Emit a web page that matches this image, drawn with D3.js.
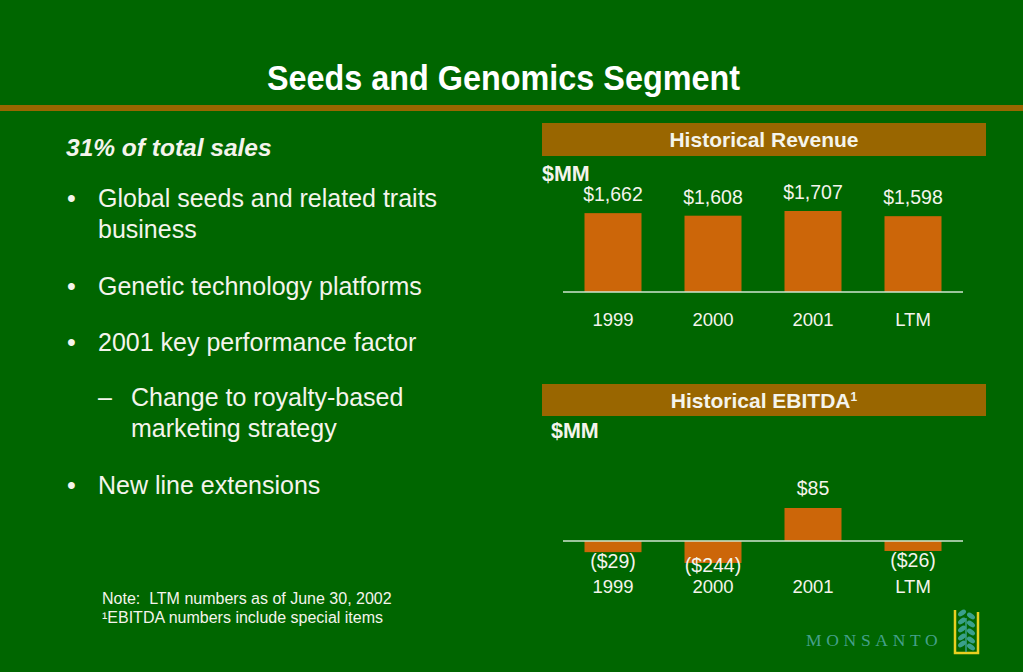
<!DOCTYPE html>
<html>
<head>
<meta charset="utf-8">
<script src="https://cdn.jsdelivr.net/npm/d3@7"></script>
<style>
  body { margin: 0; background: #006600; }
  svg { display: block; font-family: "Liberation Sans", Arial, sans-serif; }
</style>
</head>
<body>
<script>
var categories = ['1999', '2000', '2001', 'LTM'];
var revenue = [1662, 1608, 1707, 1598];
var revenueLabels = ['$1,662', '$1,608', '$1,707', '$1,598'];
var ebitda = [-29, -244, 85, -26];
var ebitdaLabels = ['($29)', '($244)', '$85', '($26)'];

var bullets = [
  {mark: '\u2022', lines: ['Global seeds and related traits', 'business'], y: 207, indent: 0},
  {mark: '\u2022', lines: ['Genetic technology platforms'], y: 295, indent: 0},
  {mark: '\u2022', lines: ['2001 key performance factor'], y: 351, indent: 0},
  {mark: '\u2013', lines: ['Change to royalty-based', 'marketing strategy'], y: 406, indent: 1},
  {mark: '\u2022', lines: ['New line extensions'], y: 494, indent: 0}
];

var W = 1023, H = 672;
var txt = '#f4f4ec', band = '#996600', barCol = '#cc6609';

var svg = d3.select('body').append('svg').attr('width', W).attr('height', H);
svg.append('rect').attr('width', W).attr('height', H).attr('fill', '#006600');

// title
svg.append('text').attr('x', 267).attr('y', 90)
  .attr('fill', '#fff').attr('font-weight', 'bold').attr('font-size', 35)
  .attr('textLength', 473).attr('lengthAdjust', 'spacingAndGlyphs')
  .text('Seeds and Genomics Segment');
svg.append('rect').attr('x', 0).attr('y', 105).attr('width', W).attr('height', 6).attr('fill', band);

// left text
svg.append('text').attr('x', 66).attr('y', 156).attr('fill', txt)
  .attr('font-weight', 'bold').attr('font-style', 'italic').attr('font-size', 24.5)
  .text('31% of total sales');

bullets.forEach(function(b) {
  var mx = b.indent ? 98 : 67, tx = b.indent ? 131 : 98;
  svg.append('text').attr('x', mx).attr('y', b.y).attr('fill', txt).attr('font-size', 25).text(b.mark);
  b.lines.forEach(function(l, i) {
    svg.append('text').attr('x', tx).attr('y', b.y + i * 31).attr('fill', txt).attr('font-size', 25).text(l);
  });
});

// notes
svg.append('text').attr('x', 102).attr('y', 604).attr('fill', txt).attr('font-size', 16)
  .style('white-space', 'pre').text('Note:  LTM numbers as of June 30, 2002');
svg.append('text').attr('x', 102).attr('y', 623).attr('fill', txt).attr('font-size', 16)
  .text('\u00b9EBITDA numbers include special items');

var x = d3.scaleBand().domain(categories).range([563, 963]).paddingInner(0.43).paddingOuter(0.215);

// revenue chart
svg.append('rect').attr('x', 542).attr('y', 123).attr('width', 444).attr('height', 33).attr('fill', band);
svg.append('text').attr('x', 764).attr('y', 147).attr('text-anchor', 'middle').attr('fill', txt)
  .attr('font-weight', 'bold').attr('font-size', 21).text('Historical Revenue');
svg.append('text').attr('x', 542).attr('y', 181).attr('fill', txt)
  .attr('font-weight', 'bold').attr('font-size', 21.5).text('$MM');

var yR = d3.scaleLinear().domain([0, 1707]).range([292, 211]);
var rev = svg.append('g');
rev.selectAll('rect').data(revenue).enter().append('rect')
  .attr('x', (d, i) => x(categories[i])).attr('width', x.bandwidth())
  .attr('y', d => yR(d)).attr('height', d => yR(0) - yR(d)).attr('fill', barCol);
rev.selectAll('text.v').data(revenue).enter().append('text').attr('class', 'v')
  .attr('x', (d, i) => x(categories[i]) + x.bandwidth() / 2).attr('y', d => yR(d) - 12)
  .attr('text-anchor', 'middle').attr('fill', txt).attr('font-size', 19.5)
  .text((d, i) => revenueLabels[i]);
rev.append('line').attr('x1', 563).attr('x2', 963).attr('y1', yR(0)).attr('y2', yR(0))
  .attr('stroke', '#cfe6cf').attr('stroke-width', 1.5);
rev.selectAll('text.c').data(categories).enter().append('text').attr('class', 'c')
  .attr('x', d => x(d) + x.bandwidth() / 2).attr('y', 326)
  .attr('text-anchor', 'middle').attr('fill', txt).attr('font-size', 18.5).text(d => d);

// ebitda chart (2000 bar is cut short, as in the slide)
svg.append('rect').attr('x', 542).attr('y', 384).attr('width', 444).attr('height', 32).attr('fill', band);
var eh = svg.append('text').attr('x', 764).attr('y', 408).attr('text-anchor', 'middle').attr('fill', txt)
  .attr('font-weight', 'bold').attr('font-size', 21);
eh.append('tspan').text('Historical EBITDA');
eh.append('tspan').attr('font-size', 12).attr('dy', -7).text('1');
svg.append('text').attr('x', 551).attr('y', 438).attr('fill', txt)
  .attr('font-weight', 'bold').attr('font-size', 21.5).text('$MM');

var yE = d3.scaleLinear().domain([-57, 85]).range([563, 508]).clamp(true);
var eb = svg.append('g');
eb.selectAll('rect').data(ebitda).enter().append('rect')
  .attr('x', (d, i) => x(categories[i])).attr('width', x.bandwidth())
  .attr('y', d => Math.min(yE(d), yE(0))).attr('height', d => Math.abs(yE(0) - yE(d)))
  .attr('fill', barCol);
eb.selectAll('text.v').data(ebitda).enter().append('text').attr('class', 'v')
  .attr('x', (d, i) => x(categories[i]) + x.bandwidth() / 2)
  .attr('y', d => d >= 0 ? yE(d) - 13 : Math.min(yE(d) + 16, 572))
  .attr('text-anchor', 'middle').attr('fill', txt).attr('font-size', 19.5)
  .text((d, i) => ebitdaLabels[i]);
eb.append('line').attr('x1', 563).attr('x2', 963).attr('y1', yE(0)).attr('y2', yE(0))
  .attr('stroke', '#cfe6cf').attr('stroke-width', 1.5);
eb.selectAll('text.c').data(categories).enter().append('text').attr('class', 'c')
  .attr('x', d => x(d) + x.bandwidth() / 2).attr('y', 593)
  .attr('text-anchor', 'middle').attr('fill', txt).attr('font-size', 18.5).text(d => d);

// logo
svg.append('text').attr('x', 806).attr('y', 646).attr('fill', '#45a08a')
  .attr('font-family', '"Liberation Serif", "DejaVu Serif", serif').attr('font-size', 17.5)
  .attr('letter-spacing', 4.7).text('MONSANTO');
var logo = svg.append('g');
logo.append('path').attr('d', 'M955,610 L955,653 L978,653 L978,612')
  .attr('fill', 'none').attr('stroke', '#e8d020').attr('stroke-width', 2.5);
logo.append('line').attr('x1', 966).attr('x2', 966).attr('y1', 618).attr('y2', 652)
  .attr('stroke', '#3aa08c').attr('stroke-width', 1.5);
[613, 621, 629, 637, 644].forEach(function(ly, i) {
  logo.append('ellipse').attr('cx', 962).attr('cy', ly).attr('rx', 4.5).attr('ry', 2.5)
    .attr('transform', 'rotate(-35,962,' + ly + ')').attr('fill', '#3aa08c');
  logo.append('ellipse').attr('cx', 971).attr('cy', ly + 3).attr('rx', 4.5).attr('ry', 2.5)
    .attr('transform', 'rotate(35,971,' + (ly + 3) + ')').attr('fill', '#3aa08c');
});
</script>
</body>
</html>
